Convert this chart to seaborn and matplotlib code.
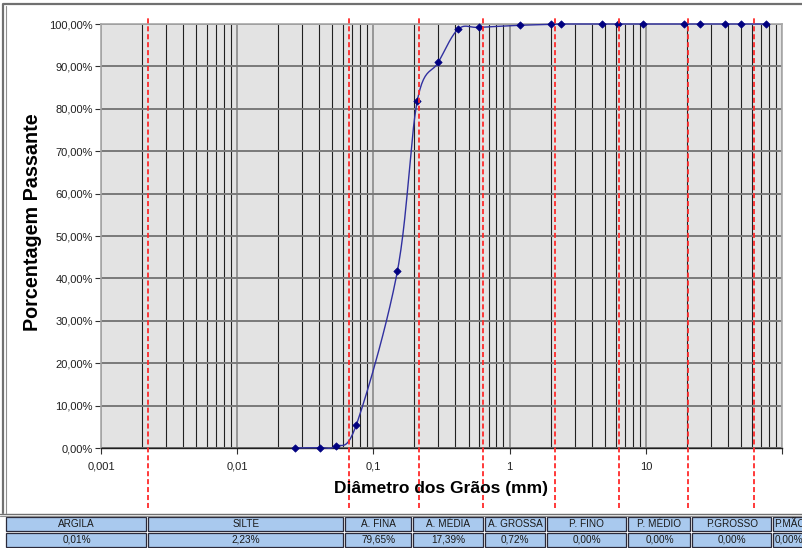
import numpy as np
import pandas as pd
import matplotlib
matplotlib.use("Agg")
import matplotlib.pyplot as plt
import matplotlib.ticker as mticker
from matplotlib.patches import Rectangle
import seaborn as sns

# ---------------- data ----------------
diametro_mm = [0.0264, 0.0405, 0.0528, 0.075, 0.15, 0.21, 0.30, 0.42, 0.60,
               1.2, 2.0, 2.4, 4.8, 6.3, 9.5, 19, 25, 38, 50, 76]
passante_pct = [0.0, 0.1, 0.4, 5.5, 41.7, 81.9, 91.0, 98.8, 99.2,
                99.7, 99.9, 100.0, 100.0, 100.0, 100.0, 100.0, 100.0, 100.0, 100.0, 100.0]
limites_classes = [0.0022, 0.066, 0.215, 0.64, 2.15, 6.4, 20.5, 62.5]
classes = ["ARGILA", "SILTE", "A. FINA", "A. MÉDIA", "A. GROSSA",
           "P. FINO", "P. MÉDIO", "P.GROSSO", "P.MÃO"]
percentuais = ["0,01%", "2,23%", "79,65%", "17,39%", "0,72%",
               "0,00%", "0,00%", "0,00%", "0,00%"]
x_ticks = [0.001, 0.01, 0.1, 1, 10, 100]
x_tick_labels = ["0,001", "0,01", "0,1", "1", "10", ""]
y_ticks = list(range(0, 101, 10))

# ---------------- style ----------------
sns.set_theme(style="white")
plt.rcParams["font.family"] = ["Liberation Sans", "DejaVu Sans"]

W, H = 803, 548
fig = plt.figure(figsize=(W / 100, H / 100), dpi=100)
fig.patch.set_facecolor("white")

L, R, T, B = 101, 782, 24, 448
ax = fig.add_axes([L / W, 1 - B / H, (R - L) / W, (B - T) / H])
ax.set_facecolor("#e3e3e3")
ax.set_xscale("log")
ax.set_xlim(0.001, 100)
ax.set_ylim(0, 100)

# gridlines
ax.xaxis.set_minor_locator(mticker.LogLocator(base=10, subs=range(2, 10)))
ax.grid(which="minor", axis="x", color="#202020", lw=0.8)
ax.grid(which="major", axis="x", color="#8a8a8a", lw=1.2)
ax.grid(which="major", axis="y", color="#7a7a7a", lw=1.4)
ax.set_axisbelow(True)

ax.set_xticks(x_ticks)
ax.set_xticklabels(x_tick_labels)
ax.set_yticks(y_ticks)
ax.set_yticklabels([f"{v:.2f}%".replace(".", ",") for v in y_ticks])
ax.tick_params(which="minor", length=0)
ax.tick_params(which="major", axis="both", length=4, width=0.8, color="#303030",
               labelsize=8, labelcolor="#202020", direction="out")
ax.tick_params(axis="x", pad=6)
ax.tick_params(axis="y", pad=2)
ax.xaxis.set_ticks_position("bottom")
ax.yaxis.set_ticks_position("left")

for s in ["top", "right", "left"]:
    ax.spines[s].set_color("#a8a8a8")
    ax.spines[s].set_linewidth(1.2)
ax.spines["bottom"].set_color("#202020")
ax.spines["bottom"].set_linewidth(1.0)

# smoothed curve (Catmull-Rom / Bezier in screen-like space, like Excel)
ux = np.log10(np.array(diametro_mm)) * 136.0
vy = np.array(passante_pct) * 4.24
P = np.column_stack([ux, vy])
Pp = np.vstack([P[0], P, P[-1]])
curve = []
t = np.linspace(0, 1, 25)[:, None]
for i in range(1, len(Pp) - 2):
    p0, p1, p2, p3 = Pp[i - 1], Pp[i], Pp[i + 1], Pp[i + 2]
    c1 = p1 + (p2 - p0) / 6.0
    c2 = p2 - (p3 - p1) / 6.0
    seg = ((1 - t) ** 3) * p1 + 3 * ((1 - t) ** 2) * t * c1 + 3 * (1 - t) * t ** 2 * c2 + t ** 3 * p2
    curve.append(seg)
curve = np.vstack(curve)
df_curve = pd.DataFrame({"d": 10 ** (curve[:, 0] / 136.0), "p": curve[:, 1] / 4.24})
ax.plot(df_curve["d"], df_curve["p"], color="#3030a0", lw=1.0, zorder=3, clip_on=False)

df_pts = pd.DataFrame({"diametro": diametro_mm, "passante": passante_pct})
sns.scatterplot(data=df_pts, x="diametro", y="passante", ax=ax, marker="D",
                s=14, color="#000080", edgecolor="#000080", linewidth=0.5,
                zorder=4, clip_on=False, legend=False)

# class boundaries (red dashed)
for xv in limites_classes:
    ax.axvline(xv, ymin=(B - 508) / (B - T), ymax=(B - 17) / (B - T), color="#ff2a2a",
               lw=1.3, ls=(0, (2.8, 1.6)), clip_on=False, zorder=5)

ax.set_xlabel("")
ax.set_ylabel("")

# overlay for labels, frame and table in pixel coordinates
ov = fig.add_axes([0, 0, 1, 1], facecolor="none")
ov.set_xlim(0, W)
ov.set_ylim(H, 0)
ov.axis("off")

ov.text((L + R) / 2, 489, "Diâmetro dos Grãos (mm)", ha="center", va="center",
        fontsize=12.5, fontweight="bold", color="black")
ov.text(33, 222, "Porcentagem Passante", ha="center", va="center", rotation=90,
        fontsize=14.2, fontweight="bold", color="black")

# chart frame
ov.plot([3, 3, W + 5], [513, 3.5, 3.5], color="#707070", lw=1.6)
ov.plot([6, 6], [6, 513], color="#909090", lw=0.8)
ov.plot([0, W], [513.5, 513.5], color="#707070", lw=1.0)
ov.plot([0, W], [515.5, 515.5], color="#909090", lw=0.8)

# table
edges = [6, 148, 344.5, 413, 484.5, 546.5, 628, 692, 773, 830]
rows = [(516.5, 531), (532.5, 546.5)]
for i in range(len(classes)):
    x0, x1 = edges[i] + 0.5, edges[i + 1] - 1.5
    for r, (y0, y1) in enumerate(rows):
        ov.add_patch(Rectangle((x0, y0), x1 - x0, y1 - y0, facecolor="#a9c9ee",
                               edgecolor="#2a2a3a", lw=0.9, clip_on=False))
    cx = (x0 + x1) / 2
    if i == len(classes) - 1:
        ha, cx = "left", x0 + 1
    else:
        ha = "center"
    ov.text(cx, (rows[0][0] + rows[0][1]) / 2 + 0.5, classes[i], ha=ha, va="center",
            fontsize=7.2, color="#1a1a1a", clip_on=True)
    ov.text(cx, (rows[1][0] + rows[1][1]) / 2 + 0.5, percentuais[i], ha=ha, va="center",
            fontsize=7.2, color="#1a1a1a", clip_on=True)

fig.savefig("out.png", dpi=100)
